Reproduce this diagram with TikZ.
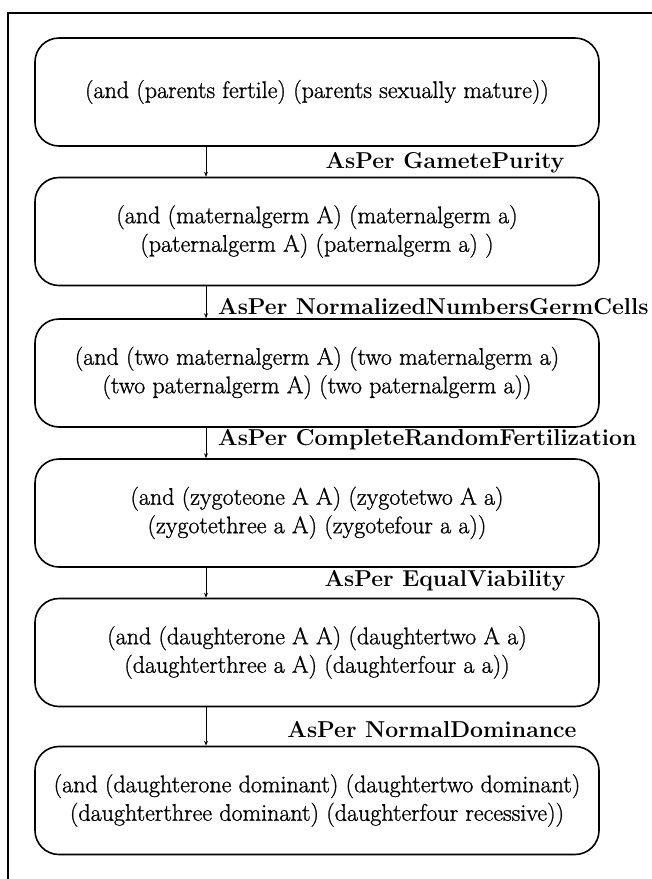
\documentclass[tikz,border=0pt]{standalone}
\usepackage{fontspec}
\setmainfont{Latin Modern Roman}
\newfontfamily\boxfont{Latin Modern Roman}[FakeBold=1.0]
\usetikzlibrary{arrows.meta}
\begin{document}
\begin{tikzpicture}[x=1pt,y=-1pt,
  box/.style={draw, line width=1.6pt, rounded corners=24pt, minimum width=564pt, minimum height=108pt, align=center, inner sep=0pt, font=\boxfont\fontsize{24}{28.5}\selectfont},
  lab/.style={font=\fontsize{23}{26}\selectfont\bfseries, inner sep=0pt},
  arr/.style={-{Stealth[length=5pt,width=4pt]}, line width=0.8pt}]
\useasboundingbox (0,0) rectangle (652,879);
\draw[line width=2.6pt] (8,879) -- (8,13) -- (652,13);
\node[box] (b1) at (317,92) {(and (parents fertile) (parents sexually mature))};
\node[box] (b2) at (317,231.5) {(and (maternalgerm A) (maternalgerm a)\\(paternalgerm A) (paternalgerm a) )};
\node[box] (b3) at (317,373) {(and (two maternalgerm A) (two maternalgerm a)\\(two paternalgerm A) (two paternalgerm a))};
\node[box] (b4) at (317,513) {(and (zygoteone A A) (zygotetwo A a)\\(zygotethree a A) (zygotefour a a))};
\node[box] (b5) at (317,652.5) {(and (daughterone A A) (daughtertwo A a)\\(daughterthree a A) (daughterfour a a))};
\node[box] (b6) at (317,800.5) {(and (daughterone dominant) (daughtertwo dominant)\\(daughterthree dominant) (daughterfour recessive))};
\foreach \a/\b in {b1/b2,b2/b3,b3/b4,b4/b5,b5/b6}
  \draw[arr] ([xshift=-111pt]\a.south) -- ([xshift=-111pt]\b.north);
\node[lab] (l1) at (445,163) {AsPer GametePurity};
\node[lab, anchor=west] (l2) at (218,307) {AsPer NormalizedNumbersGermCells};
\node[lab, anchor=west] (l3) at (218,440) {AsPer CompleteRandomFertilization};
\node[lab] (l4) at (445,581) {AsPer EqualViability};
\node[lab] (l5) at (432,730) {AsPer NormalDominance};
\end{tikzpicture}
\end{document}
